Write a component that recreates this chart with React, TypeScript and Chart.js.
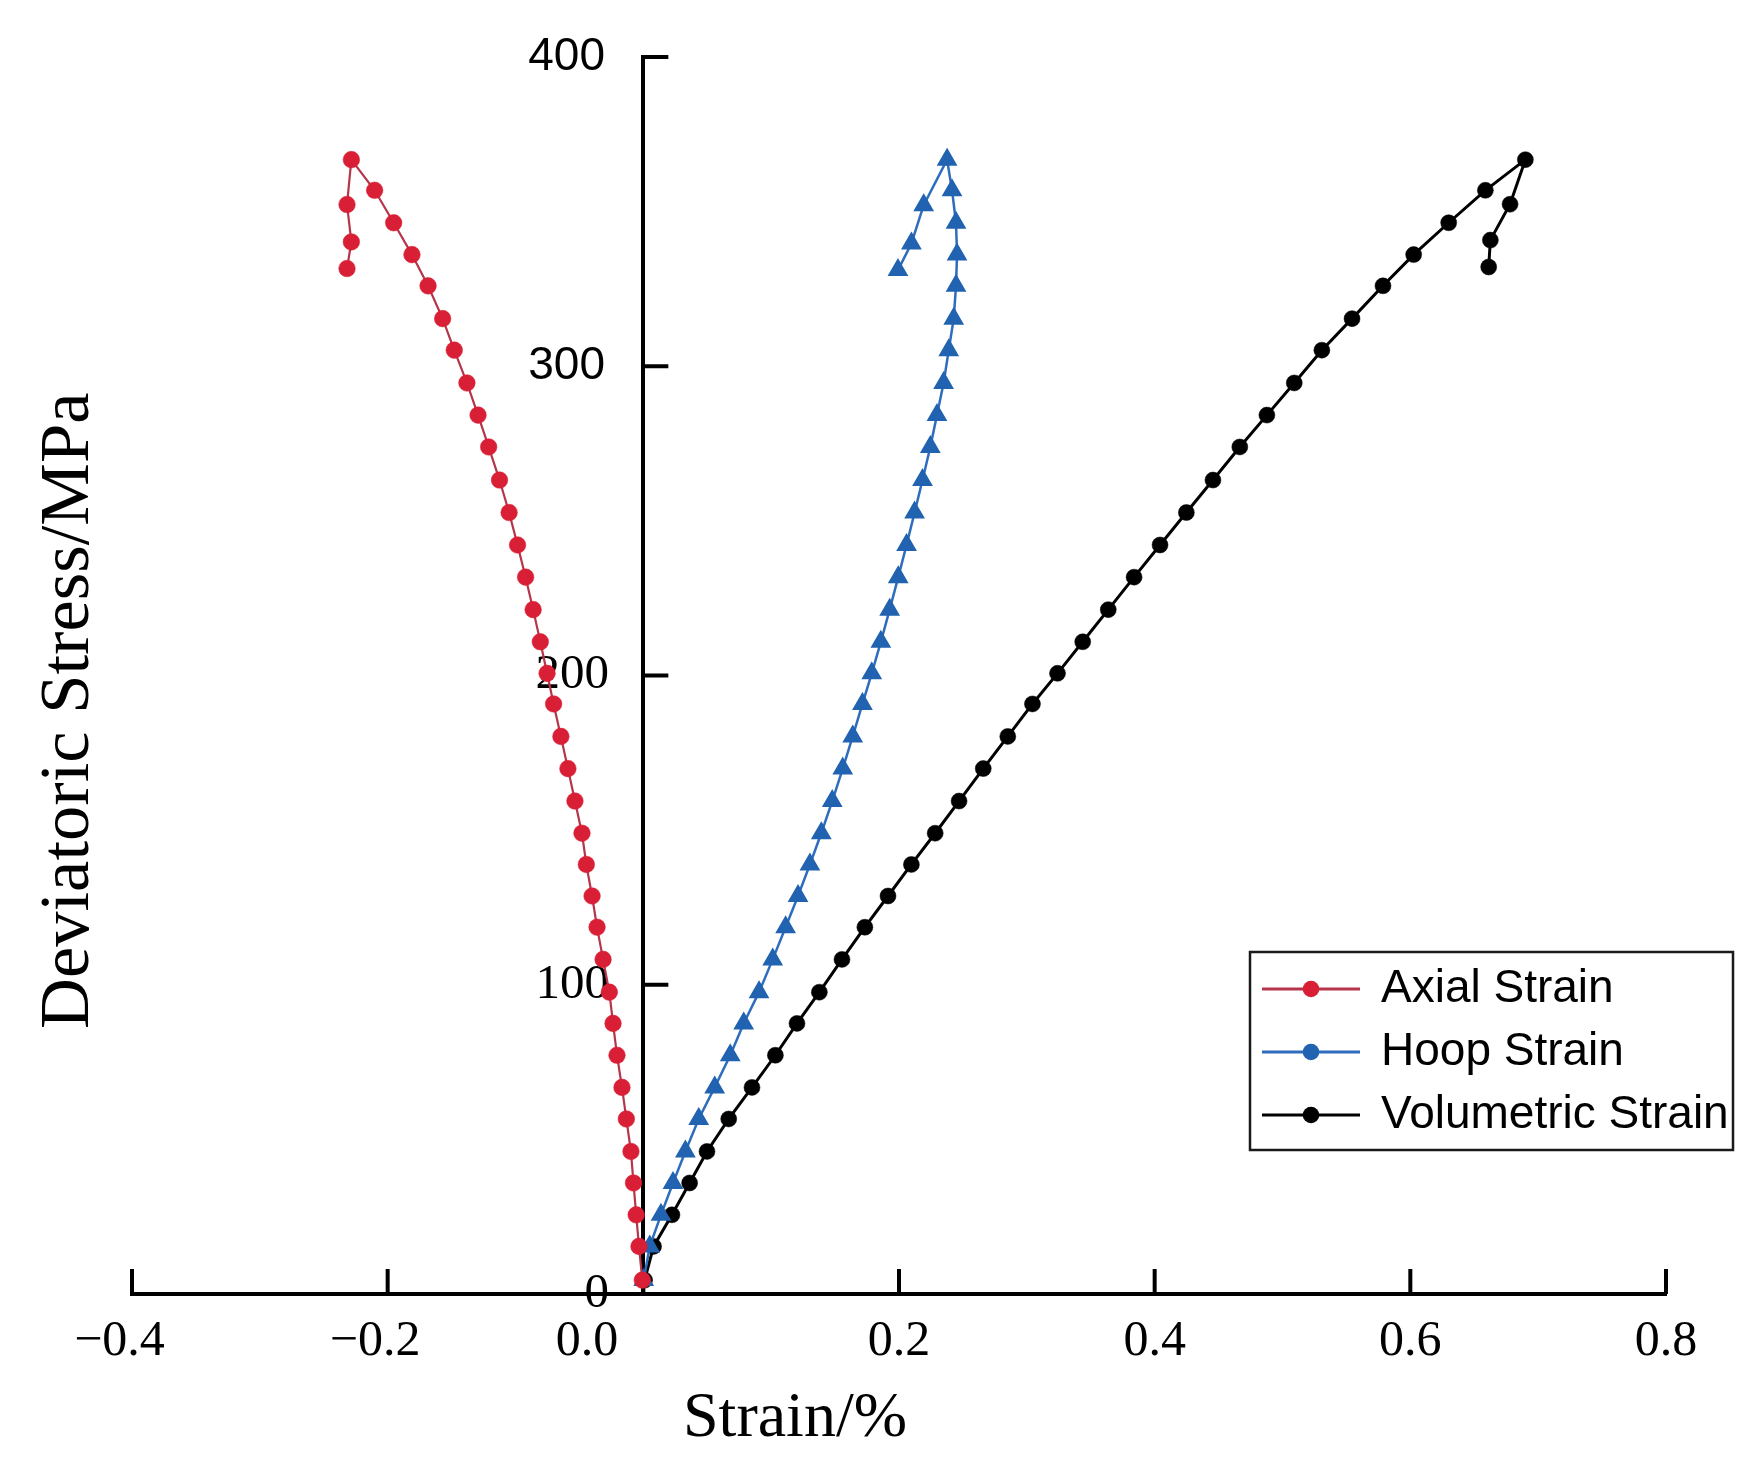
import React, { useEffect, useRef } from 'react';
import { Chart, registerables } from 'chart.js';

Chart.register(...registerables);

// ---------- data ----------
const seriesNames = ['Axial Strain', 'Hoop Strain', 'Volumetric Strain'];

// loading stress levels (MPa), shared by the three curves
const loadStress = [
  4.5, 15.4, 25.6, 35.9, 46.1, 56.6, 66.8, 77.2, 87.5, 97.6, 108.2, 118.6,
  128.7, 138.9, 149.0, 159.4, 169.9, 180.3, 190.8, 200.7, 210.9, 221.3, 231.8,
  242.2, 252.7, 263.2, 273.9, 284.2, 294.6, 305.2, 315.4, 326.0, 336.1, 346.4,
  356.9, 366.8,
];

const axialLoadStrain = [
  -0.0008, -0.0034, -0.0056, -0.0077, -0.0097, -0.0133, -0.0167, -0.0206,
  -0.0237, -0.0266, -0.0315, -0.0362, -0.0401, -0.0446, -0.048, -0.0535,
  -0.059, -0.0645, -0.0702, -0.0753, -0.0806, -0.0862, -0.0921, -0.0984,
  -0.105, -0.1125, -0.121, -0.1293, -0.138, -0.1479, -0.157, -0.1684, -0.181,
  -0.1953, -0.2102, -0.2284,
];
const hoopLoadStrain = [
  0.0003, 0.005, 0.0138, 0.0232, 0.0329, 0.0433, 0.0558, 0.068, 0.0785, 0.0905,
  0.1012, 0.1113, 0.121, 0.1303, 0.1392, 0.1478, 0.156, 0.1638, 0.1714, 0.1787,
  0.1858, 0.1927, 0.1994, 0.2059, 0.2122, 0.2184, 0.2245, 0.2297, 0.2349,
  0.2389, 0.2428, 0.2446, 0.2454, 0.2446, 0.2415, 0.2376,
];
const volLoadStrain = [
  0.001, 0.008, 0.0224, 0.0362, 0.0498, 0.0668, 0.085, 0.1033, 0.1202, 0.1377,
  0.1554, 0.1733, 0.1914, 0.2097, 0.2283, 0.247, 0.2659, 0.2851, 0.3044,
  0.324, 0.3437, 0.3637, 0.3839, 0.4042, 0.4248, 0.4456, 0.4666, 0.4878,
  0.5092, 0.5308, 0.5544, 0.5786, 0.6026, 0.63, 0.6587, 0.69,
];

// post-peak points
const axialTailStress = [352.3, 340.2, 331.6];
const axialTailStrain = [-0.2318, -0.2284, -0.2318];
const hoopTailStress = [352.1, 339.7, 331.1];
const hoopTailStrain = [0.2193, 0.2097, 0.1992];
const volTailStress = [352.4, 340.8, 332.1];
const volTailStrain = [0.678, 0.6626, 0.6613];

const xTickValues = [-0.4, -0.2, 0, 0.2, 0.4, 0.6, 0.8];
const xTickLabels = ['\u22120.4', '\u22120.2', '0.0', '0.2', '0.4', '0.6', '0.8'];
const yTickValues = [0, 100, 200, 300, 400];
const yTickLabels = ['0', '100', '200', '300', '400'];

const xTitle = 'Strain/%';
const yTitle = 'Deviatoric Stress/MPa';

// ---------- styles ----------
const SERIF = '"Liberation Serif", "Times New Roman", serif';
const SANS = '"Liberation Sans", Arial, sans-serif';
const RED_DOT = '#D91F35';
const RED_LINE = '#B5354A';
const BLUE_DOT = '#2163B0';
const BLUE_LINE = '#2E6DBE';
const BLACK = '#000000';

const LEGEND_BOX = { x: 1250, y: 952, w: 483, h: 198 };
const TICK_LEN = 25;

function toPoints(xs: number[], ys: number[]) {
  return xs.map((x, i) => ({ x, y: ys[i] }));
}

function makeSwatch(line: string, dot: string) {
  const c = document.createElement('canvas');
  c.width = 98;
  c.height = 22;
  const g = c.getContext('2d')!;
  g.strokeStyle = line;
  g.lineWidth = 2.8;
  g.beginPath();
  g.moveTo(0, 11);
  g.lineTo(98, 11);
  g.stroke();
  g.fillStyle = dot;
  g.beginPath();
  g.arc(49, 11, 8.3, 0, Math.PI * 2);
  g.fill();
  return c;
}

const innerTicksPlugin = {
  id: 'innerTicks',
  beforeDatasetsDraw(chart: any) {
    const { ctx, scales } = chart;
    const xs = scales.x;
    const ys = scales.y;
    const y0 = ys.getPixelForValue(0);
    const x0 = xs.getPixelForValue(0);
    ctx.save();
    ctx.strokeStyle = '#000';
    ctx.lineWidth = 4;
    ctx.beginPath();
    xs.ticks.forEach((t: any) => {
      const px = xs.getPixelForValue(t.value);
      ctx.moveTo(px, y0);
      ctx.lineTo(px, y0 - TICK_LEN);
    });
    ys.ticks.forEach((t: any) => {
      const py = ys.getPixelForValue(t.value);
      ctx.moveTo(x0, py);
      ctx.lineTo(x0 + TICK_LEN, py);
    });
    ctx.stroke();
    ctx.restore();
  },
};

const legendPlacePlugin = {
  id: 'legendPlace',
  beforeDraw(chart: any) {
    const lg = chart.legend;
    if (!lg) return;
    lg.left = LEGEND_BOX.x - 3;
    lg.top = LEGEND_BOX.y - 3;
    lg.width = LEGEND_BOX.w;
    lg.height = LEGEND_BOX.h + 15;
    lg.right = lg.left + lg.width;
    lg.bottom = lg.top + lg.height;
  },
  afterDraw(chart: any) {
    const { ctx } = chart;
    ctx.save();
    ctx.strokeStyle = '#1a1a1a';
    ctx.lineWidth = 2.5;
    ctx.strokeRect(LEGEND_BOX.x, LEGEND_BOX.y, LEGEND_BOX.w, LEGEND_BOX.h);
    ctx.restore();
  },
};

export default function App() {
  const canvasRef = useRef<HTMLCanvasElement | null>(null);

  useEffect(() => {
    document.body.style.margin = '0';
    const canvas = canvasRef.current;
    if (!canvas) return;

    const swatches = [
      makeSwatch(RED_LINE, RED_DOT),
      makeSwatch(BLUE_LINE, BLUE_DOT),
      makeSwatch(BLACK, BLACK),
    ];

    const chart = new Chart(canvas, {
      type: 'scatter',
      data: {
        datasets: [
          {
            label: seriesNames[0],
            data: toPoints(axialLoadStrain.concat(axialTailStrain), loadStress.concat(axialTailStress)),
            showLine: true,
            borderColor: RED_LINE,
            borderWidth: 2.2,
            pointStyle: 'circle',
            pointRadius: 8.3,
            pointBackgroundColor: RED_DOT,
            pointBorderColor: RED_DOT,
            pointBorderWidth: 0.5,
          },
          {
            label: seriesNames[1],
            data: toPoints(hoopLoadStrain.concat(hoopTailStrain), loadStress.concat(hoopTailStress)),
            showLine: true,
            borderColor: BLUE_LINE,
            borderWidth: 2.5,
            pointStyle: 'triangle',
            pointRadius: 10.5,
            pointBackgroundColor: BLUE_DOT,
            pointBorderColor: BLUE_DOT,
            pointBorderWidth: 1.5,
          },
          {
            label: seriesNames[2],
            data: toPoints(volLoadStrain.concat(volTailStrain), loadStress.concat(volTailStress)),
            showLine: true,
            borderColor: BLACK,
            borderWidth: 3,
            pointStyle: 'circle',
            pointRadius: 8,
            pointBackgroundColor: BLACK,
            pointBorderColor: BLACK,
            pointBorderWidth: 0.5,
          },
        ],
      },
      options: {
        animation: false,
        responsive: false,
        events: [],
        layout: { padding: { left: 0, top: 57, right: 97, bottom: 179 } },
        scales: {
          x: {
            type: 'linear',
            position: { y: 0 } as any,
            min: -0.4,
            max: 0.8,
            afterBuildTicks: (s: any) => {
              s.ticks = xTickValues.map((v) => ({ value: v }));
            },
            grid: { display: true, drawOnChartArea: false, drawTicks: false },
            border: { display: true, color: '#000', width: 4 },
            ticks: {
              autoSkip: false,
              maxRotation: 0,
              padding: 18,
              color: '#000',
              font: { family: SERIF, size: 50, lineHeight: 1.2 },
              callback: (v: any, i: number) => {
                const val = Number(v);
                if (val === 0) return xTickLabels[i] + '         ';
                if (val < 0) return xTickLabels[i] + '  ';
                return xTickLabels[i];
              },
            },
            title: {
              display: true,
              text: xTitle + '             ',
              color: '#000',
              font: { family: SERIF, size: 64, lineHeight: 0.72 },
              padding: { top: 6, bottom: 0 },
            },
          },
          y: {
            type: 'linear',
            position: { x: 0 } as any,
            min: 0,
            max: 400,
            afterBuildTicks: (s: any) => {
              s.ticks = yTickValues.map((v) => ({ value: v }));
            },
            grid: { display: true, drawOnChartArea: false, drawTicks: false },
            border: { display: true, color: '#000', width: 4 },
            ticks: {
              autoSkip: false,
              padding: 26,
              color: '#000',
              font: (c: any) =>
                c.tick && c.tick.value >= 300
                  ? { family: SANS, size: 46 }
                  : { family: SERIF, size: 49 },
              callback: (v: any, i: number) =>
                Number(v) >= 300 ? yTickLabels[i] + '   ' : yTickLabels[i] + '  \u2009',
            },
          },
          yTitle: {
            type: 'linear',
            position: 'left',
            display: true,
            grid: { display: false, drawTicks: false },
            border: { display: false },
            ticks: { display: false },
            title: {
              display: true,
              text: yTitle + '    ',
              color: '#000',
              font: { family: SERIF, size: 70.5, lineHeight: 1 },
              padding: { top: 34, bottom: 27.5 },
            },
          },
        },
        plugins: {
          tooltip: { enabled: false },
          legend: {
            display: true,
            position: 'chartArea' as any,
            align: 'start',
            labels: {
              usePointStyle: true,
              pointStyleWidth: 94,
              boxHeight: 20,
              padding: 17,
              color: '#000',
              font: { family: SANS, size: 46 },
              generateLabels: (ch: any) =>
                ch.data.datasets.map((ds: any, i: number) => ({
                  text: ds.label,
                  pointStyle: swatches[i],
                  fillStyle: ds.pointBackgroundColor,
                  strokeStyle: ds.borderColor,
                  lineWidth: 0,
                  hidden: false,
                  datasetIndex: i,
                  fontColor: '#000',
                })),
            },
          },
        },
      } as any,
      plugins: [innerTicksPlugin, legendPlacePlugin],
    });

    return () => chart.destroy();
  }, []);

  return (
    <div style={{ width: 1763, height: 1473, position: 'relative', background: '#fff', overflow: 'hidden' }}>
      <canvas ref={canvasRef} width={1763} height={1473} style={{ display: 'block', width: 1763, height: 1473 }} />
    </div>
  );
}
